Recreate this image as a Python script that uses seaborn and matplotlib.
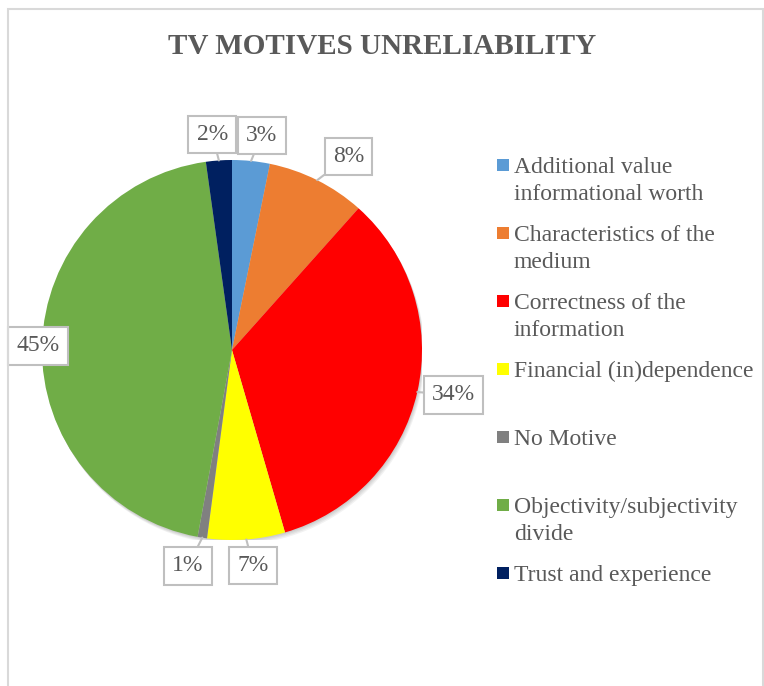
import matplotlib
matplotlib.use("Agg")
import matplotlib.pyplot as plt
import seaborn as sns
import numpy as np
from matplotlib.patches import Rectangle, Circle

# ---- data ----
categories = [
    "Additional value\ninformational worth",
    "Characteristics of the\nmedium",
    "Correctness of the\ninformation",
    "Financial (in)dependence",
    "No Motive",
    "Objectivity/subjectivity\ndivide",
    "Trust and experience",
]
values = [3.2, 8.4, 33.9, 6.6, 0.8, 44.9, 2.2]
value_labels = ["3%", "8%", "34%", "7%", "1%", "45%", "2%"]
colors = ["#5B9BD5", "#ED7D31", "#FF0000", "#FFFF00", "#808080", "#70AD47", "#002060"]
title = "TV MOTIVES UNRELIABILITY"

# layout: label distance from centre (pie radii) and clockwise angle shift (deg)
label_radius = [1.14, 1.19, 1.19, 1.14, 1.16, 1.02, 1.14]
label_shift = [2.1, 4.4, -1.3, -1.3, 2.5, 0.0, -1.3]

sns.set_theme(style="white")
plt.rcParams["font.family"] = ["Liberation Serif", "DejaVu Serif"]

W, H = 764, 686
fig = plt.figure(figsize=(W / 100, H / 100), dpi=100)
fig.patch.set_facecolor("white")

# chart border
fig.add_artist(Rectangle((8 / W, -0.01), (763 - 8) / W, 1 - 9 / H + 0.01,
                         transform=fig.transFigure, fill=False,
                         edgecolor="#D9D9D9", linewidth=1.5))

ax = fig.add_axes([42 / W, 1 - 540 / H, 380 / W, 380 / H])

# soft shadow
for k in range(4):
    off = 0.006 * (k + 1)
    ax.add_patch(Circle((off * 0.6, -off), 1.0, facecolor="black", alpha=0.05,
                        edgecolor="none", zorder=0))

wedges, _ = ax.pie(values, colors=sns.color_palette(colors), startangle=90,
                   counterclock=False, radius=1,
                   wedgeprops=dict(linewidth=0, zorder=2))
ax.set_xlim(-1, 1)
ax.set_ylim(-1, 1)
ax.set_aspect("equal")
ax.axis("off")

for w, lab, r, s in zip(wedges, value_labels, label_radius, label_shift):
    mid = (w.theta1 + w.theta2) / 2
    th = np.deg2rad(mid)
    tl = np.deg2rad(mid - s)
    ax.annotate(lab, xy=(np.cos(th), np.sin(th)),
                xytext=(r * np.cos(tl), r * np.sin(tl)),
                ha="center", va="center", fontsize=17, color="#595959",
                bbox=dict(boxstyle="square,pad=0.35", fc="white",
                          ec="#BFBFBF", lw=1.5),
                arrowprops=dict(arrowstyle="-", color="#BFBFBF", lw=1.5,
                                shrinkA=0, shrinkB=0),
                zorder=5, annotation_clip=False)

fig.text(0.5, 1 - 47 / H, title, ha="center", va="center", fontsize=21,
         fontweight="bold", color="#595959")

# legend
for i, (cat, col) in enumerate(zip(categories, colors)):
    base = 173 + 68 * i
    nlines = cat.count("\n")
    fig.add_artist(Rectangle((497 / W, 1 - (base - 2) / H), 12 / W, 12 / H,
                             transform=fig.transFigure, facecolor=col,
                             edgecolor="none"))
    fig.text(514 / W, 1 - (base + 27 * nlines) / H, cat, ha="left",
             va="baseline", fontsize=17, color="#595959", linespacing=1.35)

fig.savefig("out.png", dpi=100)
